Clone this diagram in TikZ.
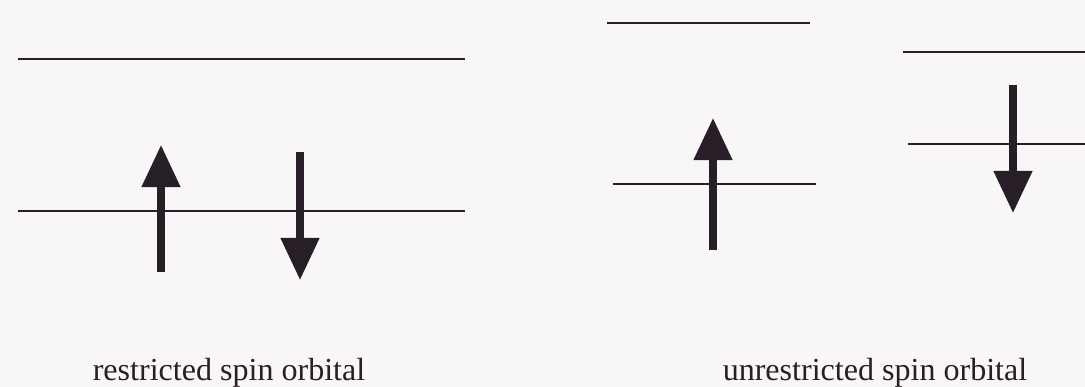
\documentclass[tikz,border=0pt]{standalone}
\usepackage{fontspec}
\setmainfont{Liberation Serif}
\usetikzlibrary{arrows.meta}

\definecolor{tinta}{RGB}{40,30,40}
\definecolor{papel}{RGB}{248,246,247}

\begin{document}
\begin{tikzpicture}[
    x=0.025cm, y=-0.025cm
]
    \tikzset{
        nivel/.style={draw=tinta, line width=2pt},
        espin/.style={draw=tinta, line width=5pt, -{Triangle[length=1.05cm, width=0.93cm]}},
        etiqueta/.style={anchor=base, text=tinta, font=\fontsize{22.8}{27}\selectfont}
    }
    \fill[papel] (0,0) rectangle (1085,387);
    \useasboundingbox (0,0) rectangle (1085,387);

    % Niveles
    \coordinate (ra1) at (18,59);   \coordinate (ra2) at (465,59);
    \coordinate (rb1) at (18,211);  \coordinate (rb2) at (465,211);
    \coordinate (ua1) at (607,23);  \coordinate (ua2) at (810,23);
    \coordinate (ub1) at (613,184); \coordinate (ub2) at (816,184);
    \coordinate (uc1) at (903,52);  \coordinate (uc2) at (1085,52);
    \coordinate (ud1) at (908,144); \coordinate (ud2) at (1085,144);

    \draw[nivel] (ra1) -- (ra2);
    \draw[nivel] (rb1) -- (rb2);
    \draw[nivel] (ua1) -- (ua2);
    \draw[nivel] (ub1) -- (ub2);
    \draw[nivel] (uc1) -- (uc2);
    \draw[nivel] (ud1) -- (ud2);

    % Espines
    \coordinate (alfa1) at (161,272);  \coordinate (alfa2) at (161,145);
    \coordinate (beta1) at (300,152);  \coordinate (beta2) at (300,280);
    \coordinate (alfa3) at (713,250);  \coordinate (alfa4) at (713,118);
    \coordinate (beta3) at (1013,85);  \coordinate (beta4) at (1013,213);

    \draw[espin] (alfa1) -- (alfa2);
    \draw[espin] (beta1) -- (beta2);
    \draw[espin] (alfa3) -- (alfa4);
    \draw[espin] (beta3) -- (beta4);

    % Etiquetas
    \node[etiqueta] (rhf) at (229,380) {restricted spin orbital};
    \node[etiqueta] (uhf) at (875,380) {unrestricted spin orbital};
\end{tikzpicture}
\end{document}
